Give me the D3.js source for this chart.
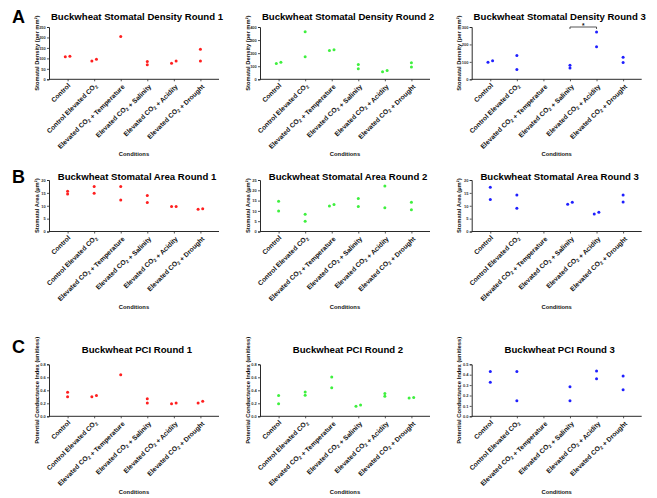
<!DOCTYPE html>
<html>
<head>
<meta charset="utf-8">
<script src="https://cdn.jsdelivr.net/npm/d3@7"></script>
<style>
  html, body { margin: 0; padding: 0; background: #fff; }
  svg { display: block; font-family: "Liberation Sans", Arial, Helvetica, sans-serif; }
</style>
</head>
<body>
<svg id="fig" width="657" height="498"></svg>
<script>
// Treatment conditions shown on every x axis
const conditions = [
  "Control",
  "Control Elevated CO2",
  "Elevated CO2 + Temperature",
  "Elevated CO2 + Salinity",
  "Elevated CO2 + Acidity",
  "Elevated CO2 + Drought"
];

// Stomatal density (per mm²), two leaves per condition
const densityRound1 = [[108, 110], [88, 96], [205], [85, 70], [77, 87], [144, 88]];
const densityRound2 = [[121, 130], [364, 172], [220, 226], [114, 81], [58, 68], [127, 94]];
const densityRound3 = [[98, 106], [137, 56], [], [80, 65], [271, 187], [127, 96]];

// Stomatal area (µm²)
const areaRound1 = [[15.6, 14.6], [17.5, 14.9], [17.5, 12.2], [14.0, 11.3], [9.7, 9.7], [8.6, 8.8]];
const areaRound2 = [[14.7, 10.0], [8.4, 5.0], [12.4, 13.1], [16.0, 12.1], [22.1, 11.5], [14.2, 10.5]];
const areaRound3 = [[17.2, 12.4], [14.2, 9.0], [], [10.6, 11.4], [6.8, 7.5], [14.2, 11.5]];

// Potential conductance index (unitless)
const pciRound1 = [[0.37, 0.30], [0.30, 0.32], [0.64], [0.27, 0.205], [0.195, 0.205], [0.205, 0.232]];
const pciRound2 = [[0.32, 0.195], [0.375, 0.325], [0.605, 0.44], [0.155, 0.175], [0.35, 0.31], [0.28, 0.29]];
const pciRound3 = [[0.43, 0.327], [0.43, 0.15], [], [0.285, 0.15], [0.436, 0.362], [0.388, 0.256]];

// Y tick values for each panel
const densityTicks = [[0, 50, 100, 150, 200, 250], [0, 100, 200, 300, 400], [0, 100, 200, 300]];
const areaTicks = [[0, 5, 10, 15, 20], [0, 5, 10, 15, 20, 25], [0, 5, 10, 15, 20]];
const pciTicks = [[0, 0.2, 0.4, 0.6, 0.8], [0, 0.2, 0.4, 0.6, 0.8], [0, 0.1, 0.2, 0.3, 0.4, 0.5]];

// Significance comparisons (round 3 density)
const densityRound3Sig = [{ from: "Elevated CO2 + Salinity", to: "Elevated CO2 + Acidity", at: 300, label: "*" }];

const roundColors = ["#ff1f1f", "#3ef03e", "#1f1fff"];
const rowLetters = ["A", "B", "C"];

const rows = [
  { name: "Buckwheat Stomatal Density", yLabel: "Stomatal Density (per mm²)", data: [densityRound1, densityRound2, densityRound3], ticks: densityTicks, fmt: d3.format("d"), sig: [[], [], densityRound3Sig] },
  { name: "Buckwheat Stomatal Area", yLabel: "Stomatal Area (µm²)", data: [areaRound1, areaRound2, areaRound3], ticks: areaTicks, fmt: d3.format("d"), sig: [[], [], []] },
  { name: "Buckwheat PCI", yLabel: "Potential Conductance Index (unitless)", data: [pciRound1, pciRound2, pciRound3], ticks: pciTicks, fmt: d3.format(".1f"), sig: [[], [], []] }
];

// Panel geometry
const colLeft = [49, 260, 471.7];
const plotWidth = 170;
const rowGeom = [
  { base: 79.3, top: 27, title: 19.5, letter: 22.7, xTitle: 156.2 },
  { base: 231.5, top: 180, title: 179.5, letter: 182.7, xTitle: 308.6 },
  { base: 416.3, top: 364.3, title: 353, letter: 353, xTitle: 494.2 }
];

const svg = d3.select("#fig");
const axisColor = "#2a2a2a";
const catFont = 6.7;

// Writes a label, setting every "2" after "CO" as a subscript
function richText(sel, str, size) {
  const parts = str.split(/(CO2)/);
  parts.forEach(p => {
    if (p === "CO2") {
      sel.append("tspan").text("CO");
      sel.append("tspan").attr("font-size", size * 0.7).attr("dy", size * 0.25).text("2");
      sel.append("tspan").attr("dy", -size * 0.25).text("");
    } else if (p.length) {
      sel.append("tspan").text(p);
    }
  });
}

rows.forEach((row, r) => {
  const g0 = rowGeom[r];
  svg.append("text")
    .attr("x", 12).attr("y", g0.letter)
    .attr("font-size", 18).attr("font-weight", "bold").attr("fill", "#000")
    .text(rowLetters[r]);

  row.data.forEach((series, c) => {
    const left = colLeft[c];
    const ticks = row.ticks[c];
    const x = d3.scalePoint().domain(conditions).range([left, left + plotWidth]).padding(0.7);
    const y = d3.scaleLinear().domain([0, d3.max(ticks)]).range([g0.base, g0.top]);
    const g = svg.append("g");

    // Y axis
    const yAxis = d3.axisLeft(y).tickValues(ticks).tickFormat(row.fmt).tickSize(2).tickPadding(1.2);
    const ya = g.append("g").attr("transform", `translate(${left},0)`).call(yAxis);
    ya.select(".domain").attr("stroke", axisColor).attr("stroke-width", 1);
    ya.selectAll(".tick line").attr("stroke", axisColor).attr("stroke-width", 0.8);
    ya.selectAll(".tick text").attr("font-size", 4).attr("fill", "#333").attr("font-weight", "bold");

    // X axis
    const xAxis = d3.axisBottom(x).tickSize(2).tickFormat("");
    const xa = g.append("g").attr("transform", `translate(0,${g0.base})`).call(xAxis);
    xa.select(".domain").attr("stroke", axisColor).attr("stroke-width", 1)
      .attr("d", `M${left},0H${left + plotWidth}`);
    xa.selectAll(".tick line").attr("stroke", axisColor).attr("stroke-width", 0.8);

    // Rotated category labels
    conditions.forEach(cond => {
      const t = g.append("text")
        .attr("transform", `translate(${x(cond) + 1.5},${g0.base + 5}) rotate(-45)`)
        .attr("text-anchor", "end")
        .attr("dy", "0.35em")
        .attr("font-size", catFont).attr("font-weight", "bold").attr("fill", "#111");
      richText(t, cond, catFont);
    });

    // Axis titles
    g.append("text")
      .attr("transform", `translate(${left - 10.5},${(g0.base + g0.top) / 2}) rotate(-90)`)
      .attr("text-anchor", "middle")
      .attr("font-size", 5.8).attr("font-weight", "bold").attr("fill", "#111")
      .text(row.yLabel);
    g.append("text")
      .attr("x", left + plotWidth / 2).attr("y", g0.xTitle)
      .attr("text-anchor", "middle")
      .attr("font-size", 5.8).attr("font-weight", "bold").attr("fill", "#111")
      .text("Conditions");

    // Panel title
    g.append("text")
      .attr("x", left + plotWidth / 2 + 3).attr("y", g0.title)
      .attr("text-anchor", "middle")
      .attr("font-size", 9.6).attr("font-weight", "bold").attr("fill", "#000")
      .text(`${row.name} Round ${c + 1}`);

    // Points: values that would overlap are spread sideways
    series.forEach((vals, i) => {
      const cx = x(conditions[i]);
      const pts = vals.map(v => ({ v, py: y(v), dx: 0 }));
      if (pts.length === 2 && Math.abs(pts[0].py - pts[1].py) < 2.2) {
        const lo = pts[0].v <= pts[1].v ? 0 : 1;
        pts[lo].dx = -2.3;
        pts[1 - lo].dx = 2.3;
      }
      g.selectAll(null).data(pts).enter().append("circle")
        .attr("cx", d => cx + d.dx)
        .attr("cy", d => d.py)
        .attr("r", 1.5)
        .attr("fill", roundColors[c]);
    });

    // Significance brackets
    row.sig[c].forEach(s => {
      const x1 = x(s.from), x2 = x(s.to), yy = y(s.at);
      g.append("path")
        .attr("d", `M${x1},${yy + 2}V${yy}H${x2}V${yy + 2}`)
        .attr("fill", "none").attr("stroke", axisColor).attr("stroke-width", 0.8);
      g.append("text")
        .attr("x", (x1 + x2) / 2).attr("y", yy + 1.2)
        .attr("text-anchor", "middle")
        .attr("font-size", 6.5).attr("font-weight", "bold").attr("fill", "#111")
        .text(s.label);
    });
  });
});
</script>
</body>
</html>
